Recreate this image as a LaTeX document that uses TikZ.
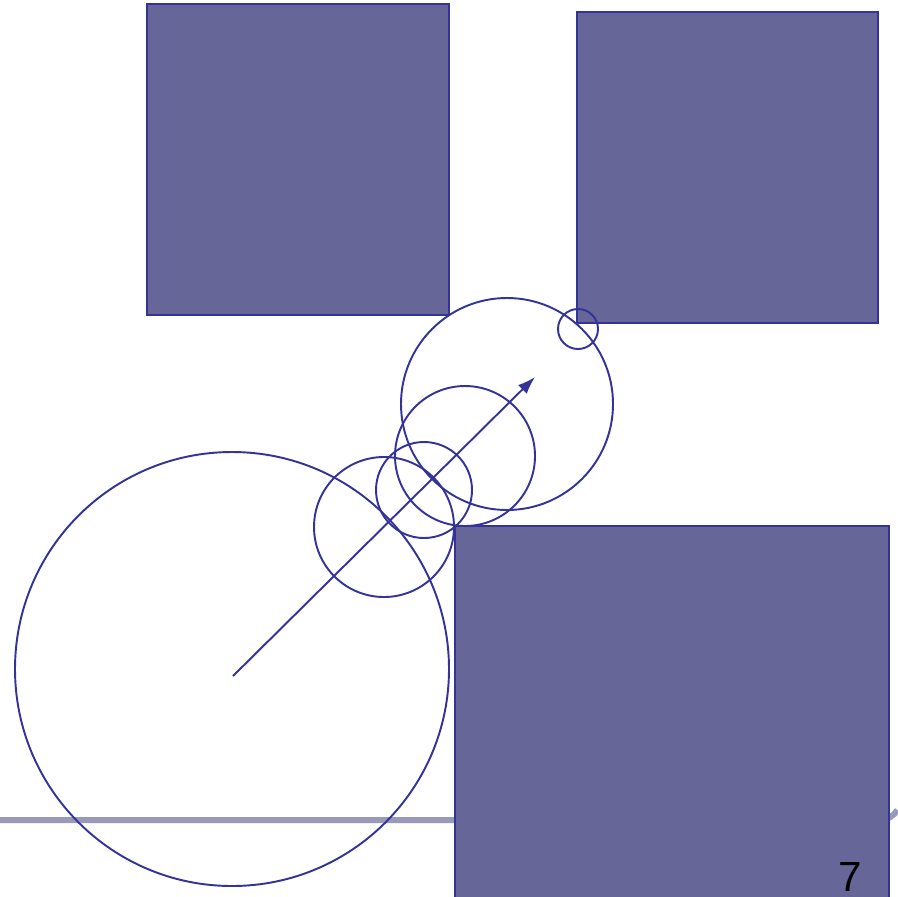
\documentclass[tikz,border=0pt]{standalone}
\usepackage{fontspec}
\setmainfont{Liberation Sans}
\usetikzlibrary{arrows.meta}

\begin{document}
\begin{tikzpicture}[x=0.02cm,y=-0.02cm]
    \definecolor{col_box}{HTML}{666699} % fill of the obstacles
    \definecolor{col_line}{HTML}{333399} % outlines
    \definecolor{col_rule}{HTML}{9999BB} % slide rule
    \tikzset{box/.style={draw=col_line,line width=1.1pt,fill=col_box},
             ball/.style={draw=col_line,line width=1.1pt}}
    \useasboundingbox (0,0) rectangle (898,896);
    \clip (0,0) rectangle (898,896);
    \draw[col_rule,line width=3.4pt] (0,820)--(880,820) arc[start angle=90,end angle=30,radius=20];
    \draw[box] (147,4) rectangle (449,315);
    \draw[box] (577,12) rectangle (878,323);
    \draw[box] (455,526) rectangle (889,905);
    \draw[ball] (232,669) circle (217);
    \draw[ball] (384,527) circle (70);
    \draw[ball] (424,490) circle (48);
    \draw[ball] (465,456) circle (70);
    \draw[ball] (507,404) circle (106);
    \draw[ball] (578,329) circle (20);
    \coordinate (tail) at (233,676);
    \coordinate (head) at (535,377);
    \draw[col_line,line width=1.1pt,-{Latex[length=10pt,width=7pt]}] (tail)--(head);
    \node[font=\fontsize{24}{28}\selectfont,inner sep=0pt] (page) at (850,877) {7};
\end{tikzpicture}
\end{document}
